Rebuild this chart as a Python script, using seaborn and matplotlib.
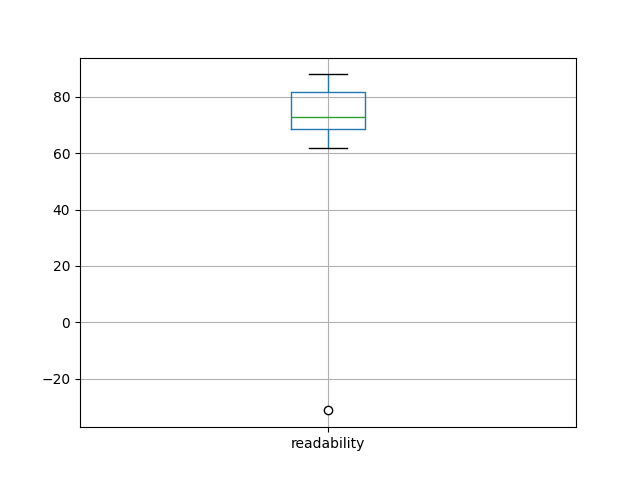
import matplotlib
matplotlib.use("Agg")
import matplotlib.pyplot as plt
import seaborn as sns
import pandas as pd

# Readability scores (whiskers 61.7..88, Q1 68.5, median 72.75, Q3 81.9, outlier -31.3)
readability = [-31.3, 61.7, 68.5, 70.0, 72.75, 78.0, 81.9, 85.0, 88.0]
columns = ["readability"]

df = pd.DataFrame({columns[0]: readability})

fig, ax = plt.subplots(figsize=(6.4, 4.8), dpi=100)
sns.boxplot(
    data=df, ax=ax, width=0.15, fill=False, color="C0", linewidth=1,
    whis=1.5,
    boxprops=dict(color="C0", linewidth=1),
    whiskerprops=dict(color="C0", linewidth=1),
    capprops=dict(color="black", linewidth=1),
    medianprops=dict(color="C2", linewidth=1),
    flierprops=dict(marker="o", markerfacecolor="white", markeredgecolor="black",
                    markersize=6, linestyle="none"),
)
ax.set_xlim(-0.5, 0.5)
ax.grid(True)
ax.set_axisbelow("line")
ax.set_xlabel("")
ax.set_ylabel("")
fig.savefig("out.png", dpi=100)
